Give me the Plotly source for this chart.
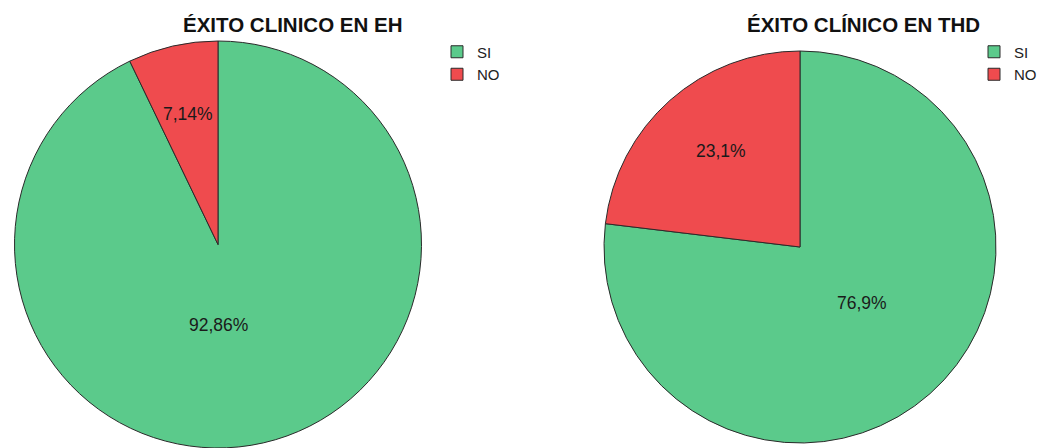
import plotly.graph_objects as go

labels = ["SI", "NO"]
eh_values = [92.86, 7.14]
eh_text = ["92,86%", "7,14%"]
thd_values = [76.9, 23.1]
thd_text = ["76,9%", "23,1%"]
titles = ["ÉXITO CLINICO EN EH", "ÉXITO CLÍNICO EN THD"]

colors = ["#5bca8b", "#ef4b4e"]
W, H = 1042, 448

def px(x, y):
    # pixel position -> paper coords
    return x / W, 1 - y / H

fig = go.Figure()

fig.add_trace(go.Pie(
    labels=labels, values=eh_values, textinfo="none",
    sort=False, direction="clockwise", rotation=0,
    marker=dict(colors=colors, line=dict(color="#2a2a2a", width=1)),
    domain=dict(x=[11 / W, 425 / W], y=[0, 1 - 41 / H]),
    legend="legend", legendgroup="eh", hoverinfo="label+percent",
))

fig.add_trace(go.Pie(
    labels=labels, values=thd_values, textinfo="none",
    sort=False, direction="clockwise", rotation=0,
    marker=dict(colors=colors, line=dict(color="#2a2a2a", width=1)),
    domain=dict(x=[604 / W, 996 / W], y=[1 - 443 / H, 1 - 51 / H]),
    legend="legend2", legendgroup="thd", hoverinfo="label+percent",
))

legend_style = dict(font=dict(size=15, color="#222222", family="Liberation Sans, Arial"),
                    bgcolor="rgba(0,0,0,0)", yanchor="top",
                    itemwidth=30, tracegroupgap=0)

annotations = []
for txt, (x, y) in zip(titles, [(292, 25), (863, 25)]):
    ax, ay = px(x, y)
    annotations.append(dict(text="<b>%s</b>" % txt, x=ax, y=ay, xref="paper", yref="paper",
                            xanchor="center", yanchor="middle", showarrow=False,
                            font=dict(size=20.5, color="#111111")))

label_pos = [(218, 325), (188, 114), (862, 303), (721, 151)]
for txt, (x, y) in zip(eh_text + thd_text, label_pos):
    ax, ay = px(x, y)
    annotations.append(dict(text=txt, x=ax, y=ay, xref="paper", yref="paper",
                            xanchor="center", yanchor="middle", showarrow=False,
                            font=dict(size=17.5, color="#1a1a1a")))

fig.update_layout(
    width=W, height=H,
    margin=dict(l=0, r=0, t=0, b=0),
    paper_bgcolor="white", plot_bgcolor="white",
    font=dict(family="Liberation Sans, Arial", color="#222222"),
    legend=dict(x=437 / W, y=1 - 35.5 / H, xanchor="left", **legend_style),
    legend2=dict(x=1, y=1 - 35.5 / H, xanchor="right", **legend_style),
    annotations=annotations,
)

# drop the default 8px body margin so the figure fills the window exactly
fig.write_html("out.html", config={"displayModeBar": False},
               post_script="document.body.style.margin = '0';")
